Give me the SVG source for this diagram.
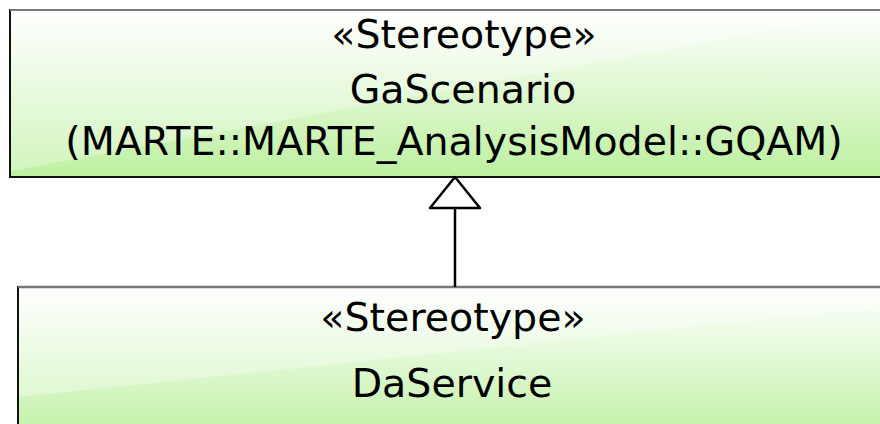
<svg xmlns="http://www.w3.org/2000/svg" width="880" height="424" viewBox="0 0 880 424">
<defs>
<linearGradient id="g" x1="0" y1="0" x2="0" y2="1">
<stop offset="0" stop-color="#ffffff"/>
<stop offset="1" stop-color="#bdf0a0"/>
</linearGradient>
<style>
.box{fill:url(#g);stroke:#111;stroke-width:2}
.gloss{fill:#fff;fill-opacity:0.3}
.t{font-family:"DejaVu Sans",sans-serif;font-size:39.5px;fill:#000;text-anchor:middle}
.c{stroke:#000;stroke-width:2.5;fill:none;stroke-linejoin:round}
</style>
</defs>
<g id="GaScenario">
<rect class="box" x="10" y="10" width="900" height="167"/>
<polygon class="gloss" points="11,11 880,11 880,10 11,171"/>
<line x1="10" y1="10" x2="880" y2="10" stroke="#777" stroke-width="2"/>
<text class="t" x="464" y="48">«Stereotype»</text>
<text class="t" x="463" y="102.5">GaScenario</text>
<text class="t" x="454" y="155">(MARTE::MARTE_AnalysisModel::GQAM)</text>
</g>
<g id="DaService">
<rect class="box" x="18" y="287" width="900" height="160"/>
<polygon class="gloss" points="19,288 880,288 880,307 19,397"/>
<line x1="18" y1="287" x2="880" y2="287" stroke="#777" stroke-width="2.5"/>
<text class="t" x="453" y="331">«Stereotype»</text>
<text class="t" x="452" y="397">DaService</text>
</g>
<g id="connectors">
<line class="c" x1="455" y1="208" x2="455" y2="287"/>
<polygon class="c" style="fill:#fff" points="455,177 430,208 480,208"/>
</g>
</svg>
